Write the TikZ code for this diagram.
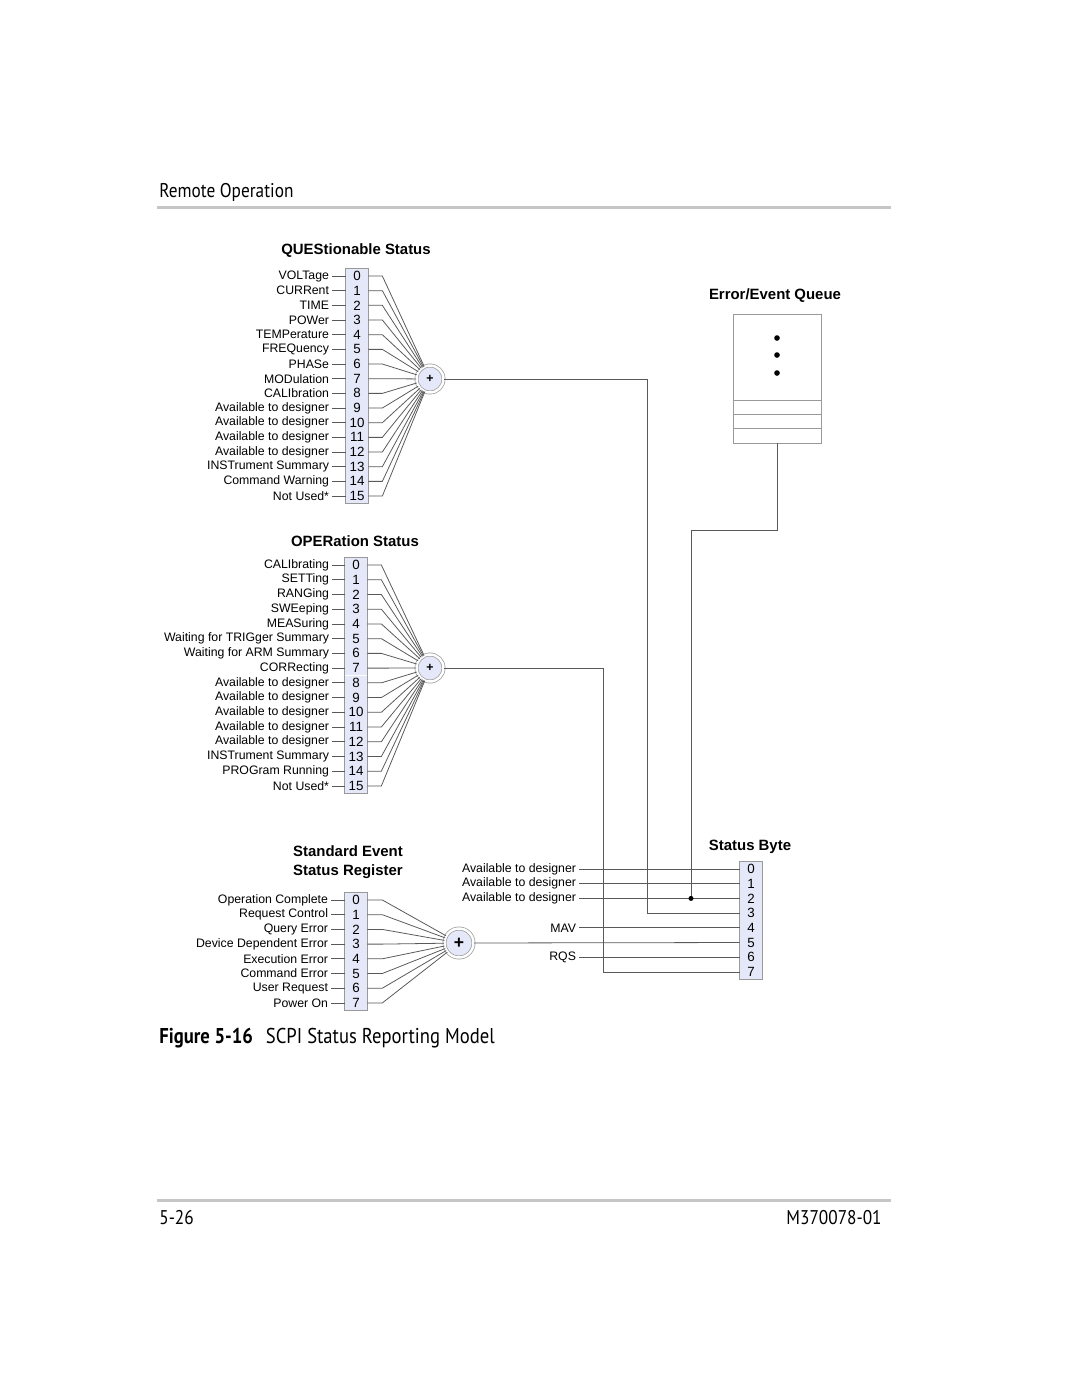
\documentclass[tikz,border=0pt]{standalone}
\usepackage{fontspec}
\setmainfont{Liberation Sans}
\newfontfamily\pagefont[FakeStretch=0.87]{PT Sans}
\usetikzlibrary{calc}
\definecolor{regfill}{HTML}{E4E8F8}
\tikzset{
  wire/.style={draw=black!65, line width=0.45pt},
  regbit/.style={
    fill=regfill,
    inner sep=0pt,
    minimum width=0.44cm,
    minimum height=0.294cm,
    font=\fontsize{7.6}{8}\selectfont
  },
  regbox/.style={draw=gray!80, line width=0.5pt},
  sig label/.style={anchor=east, inner sep=1.5pt, font=\fontsize{7}{8}\selectfont},
  reg title/.style={font=\bfseries\fontsize{8.5}{10.5}\selectfont, align=center},
  or gate/.style={
    circle,
    draw=gray!80,
    double=white,
    double distance=1.4pt,
    fill=regfill,
    inner sep=0pt,
    minimum size=0.54cm,
    font=\bfseries\fontsize{7}{8}\selectfont
  },
  junction/.style={circle, fill=black, inner sep=0pt, minimum size=0.1cm},
  page rule/.style={draw=gray!45, line width=0.06cm},
  page text/.style={font=\pagefont\fontsize{11.3}{13}\selectfont, inner sep=0pt}
}

\begin{document}
\begin{tikzpicture}[x=0.02cm, y=-0.02cm]
    \useasboundingbox (0,0) rectangle (1080,1397);

    % page header
    \node[page text, anchor=base west] (header) at (159,197) {Remote Operation};
    \draw[page rule] (157,207) -- (891,207);

    % QUEStionable Status register
    \node[reg title] (qtitle) at (356,251) {QUEStionable Status};
    \foreach \lab [count=\i from 0] in {VOLTage,CURRent,TIME,POWer,TEMPerature,FREQuency,PHASe,MODulation,CALIbration,Available to designer,Available to designer,Available to designer,Available to designer,INSTrument Summary,Command Warning,Not Used*} {
      \node[regbit] (q\i) at (357,{276+\i*14.67}) {\i};
      \node[sig label] (ql\i) at (332,{276+\i*14.67}) {\lab};
    }
    \draw[regbox] (q0.north west) rectangle (q15.south east);
    \node[or gate] (qor) at (430,379) {+};
    \foreach \i in {0,...,15} {
      \draw[wire] (ql\i) -- (q\i);
      \draw[wire] (q\i.east) -- ++(14,0) -- (qor);
    }

    % OPERation Status register
    \node[reg title] (otitle) at (355,541) {OPERation Status};
    \foreach \lab [count=\i from 0] in {CALIbrating,SETTing,RANGing,SWEeping,MEASuring,Waiting for TRIGger Summary,Waiting for ARM Summary,CORRecting,Available to designer,Available to designer,Available to designer,Available to designer,Available to designer,INSTrument Summary,PROGram Running,Not Used*} {
      \node[regbit] (o\i) at (356,{565+\i*14.73}) {\i};
      \node[sig label] (ol\i) at (332,{565+\i*14.73}) {\lab};
    }
    \draw[regbox] (o0.north west) rectangle (o15.south east);
    \node[or gate] (oor) at (430,668) {+};
    \foreach \i in {0,...,15} {
      \draw[wire] (ol\i) -- (o\i);
      \draw[wire] (o\i.east) -- ++(14,0) -- (oor);
    }

    % Standard Event Status Register
    \node[reg title] (stitle) at (348,862) {Standard Event\\Status Register};
    \foreach \lab [count=\i from 0] in {Operation Complete,Request Control,Query Error,Device Dependent Error,Execution Error,Command Error,User Request,Power On} {
      \node[regbit] (s\i) at (356,{900+\i*14.7}) {\i};
      \node[sig label] (sl\i) at (331,{900+\i*14.7}) {\lab};
    }
    \draw[regbox] (s0.north west) rectangle (s7.south east);
    \node[or gate, minimum size=0.58cm, font=\bfseries\fontsize{10}{10}\selectfont] (sor) at (459,943) {+};
    \foreach \i in {0,...,7} {
      \draw[wire] (sl\i) -- (s\i);
      \draw[wire] (s\i.east) -- ++(15,0) -- (sor);
    }

    % Error/Event Queue
    \node[reg title] (eqtitle) at (775,296) {Error/Event Queue};
    \node[regbox, minimum width=1.76cm, minimum height=2.58cm, inner sep=0pt] (eq) at (777,378.5) {};
    \foreach \y in {400,414,428} {
      \coordinate (eqrow) at (0,\y);
      \draw[regbox] (eq.west |- eqrow) -- (eq.east |- eqrow);
    }
    \foreach \y in {338,355,373}
      \fill (777,\y) circle (1.6pt);

    % Status Byte
    \node[reg title] (sbtitle) at (750,847) {Status Byte};
    \foreach \i in {0,...,7}
      \node[regbit] (sb\i) at (751,{869+\i*14.7}) {\i};
    \draw[regbox] (sb0.north west) rectangle (sb7.south east);
    \foreach \i in {0,1,2} {
      \node[sig label] (sbl\i) at (579,{869+\i*14.7}) {Available to designer};
      \draw[wire] (sbl\i) -- (sb\i);
    }
    \node[sig label] (mav) at (579,{869+4*14.7}) {MAV};
    \node[sig label] (rqs) at (579,{869+6*14.7}) {RQS};
    \draw[wire] (mav) -- (sb4);
    \draw[wire] (rqs) -- (sb6);

    % summary lines into the Status Byte
    \coordinate (qturn) at (647,379);
    \coordinate (oturn) at (603,668);
    \coordinate (eqturn) at (691,530);
    \node[junction] (sbdot) at (691,{869+2*14.7}) {};
    \draw[wire] (qor) -- (qturn) |- (sb3);
    \draw[wire] (oor) -- (oturn) |- (sb7);
    \draw[wire] (sor) -- (sb5);
    \draw[wire] (eq.south) |- (eqturn) -- (sbdot);

    % caption and footer
    \node[page text, anchor=base west, font=\pagefont\fontsize{12.2}{14}\selectfont] (caption) at (159,1043) {\textbf{Figure 5-16}\hspace{0.6em}SCPI Status Reporting Model};
    \draw[page rule] (157,1200) -- (891,1200);
    \node[page text, anchor=base west] (pagenum) at (159,1224) {5-26};
    \node[page text, anchor=base east] (docnum) at (882,1224) {M370078-01};

\end{tikzpicture}
\end{document}
